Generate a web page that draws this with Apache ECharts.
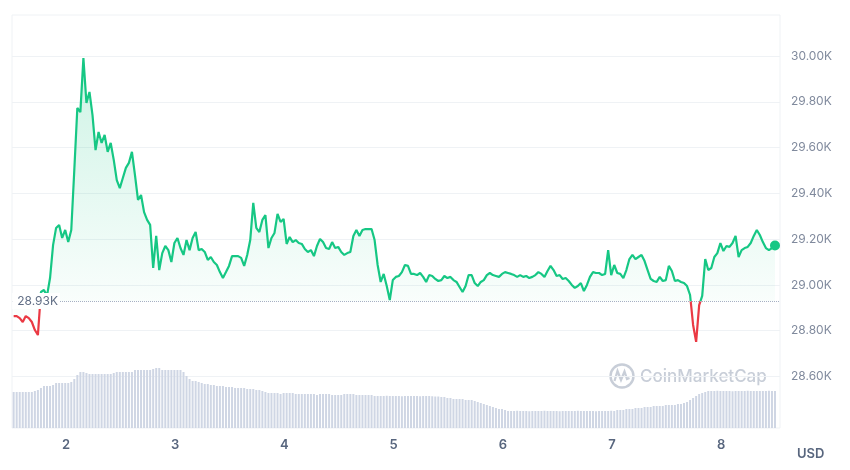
<!DOCTYPE html>
<html><head><meta charset="utf-8">
<script src="https://cdn.jsdelivr.net/npm/echarts@6/dist/echarts.min.js"></script>
<style>html,body{margin:0;padding:0;background:#fff}#c{width:850px;height:470px}</style>
</head><body><div id="c"></div>
<script>
// ---- data ----
const startDay = 1.52;          // first sample (day of month)
const stepDay = 1 / 36;         // 40-minute samples
const dayTicks = [2, 3, 4, 5, 6, 7, 8];
const priceTicks = [28600, 28800, 29000, 29200, 29400, 29600, 29800, 30000];
const baselinePrice = 28930;
const prices = [
 28864,28864,28855,28838,28864,28855,28838,28803,28781,28969,28978,28952,
 29030,29174,29249,29262,29205,29240,29187,29240,29502,29773,29755,29991,
 29795,29843,29742,29589,29668,29620,29655,29581,29620,29546,29458,29423,
 29467,29511,29533,29581,29480,29371,29393,29318,29284,29262,29074,29214,
 29065,29139,29170,29152,29100,29183,29205,29161,29131,29196,29152,29205,
 29231,29152,29157,29144,29109,29122,29100,29087,29056,29030,29056,29083,
 29126,29126,29126,29118,29083,29131,29196,29358,29249,29231,29284,29305,
 29161,29205,29227,29310,29275,29288,29179,29209,29187,29196,29183,29179,
 29157,29144,29152,29126,29170,29201,29187,29161,29157,29187,29161,29166,
 29144,29131,29139,29144,29214,29240,29214,29240,29244,29244,29244,29196,
 29087,29013,29048,28995,28934,29021,29035,29039,29056,29087,29083,29048,
 29048,29043,29052,29035,29013,29043,29039,29026,29017,29021,29039,29030,
 29035,29021,29013,28991,28969,28995,29043,29043,29008,28995,29013,29021,
 29043,29052,29043,29039,29035,29048,29056,29052,29048,29043,29035,29043,
 29035,29039,29030,29035,29043,29056,29048,29035,29061,29083,29065,29039,
 29043,29026,29030,29017,29000,28987,28995,29008,28973,29000,29035,29056,
 29052,29052,29043,29048,29152,29043,29087,29052,29048,29030,29065,29113,
 29131,29113,29122,29131,29104,29065,29026,29017,29013,29035,29017,29021,
 29083,29061,29017,29021,29013,29008,28995,28956,28825,28751,28912,28952,
 29113,29065,29074,29122,29139,29183,29148,29170,29166,29183,29214,29122,
 29152,29161,29166,29183,29214,29240,29218,29187,29161,29152,29161,29172
];
const volumes = [ // 24h volume, billions USD
 14.4,14.4,14.4,14.4,14.4,14.4,14.4,14.8,15.2,16.0,16.8,16.8,
 16.8,17.2,18.0,18.0,18.0,18.0,18.0,18.4,19.6,21.2,22.4,22.4,
 22.0,21.6,21.6,21.6,21.6,21.6,21.6,21.6,21.6,22.0,22.4,22.4,
 22.4,22.4,22.4,22.4,23.2,23.2,23.2,23.2,23.2,23.2,23.6,24.0,
 24.0,23.2,23.2,23.2,23.2,23.2,23.2,23.2,22.4,20.8,19.6,18.8,
 18.8,18.4,18.0,17.6,17.6,17.2,17.2,16.8,16.8,16.8,16.4,16.4,
 16.4,16.0,16.0,16.0,16.0,15.6,15.6,15.6,15.2,15.2,14.8,14.4,
 14.0,14.0,14.0,14.0,13.6,14.0,14.0,14.0,14.0,13.6,13.6,13.6,
 13.6,13.6,13.6,13.6,13.2,13.6,13.6,13.6,13.6,13.2,13.2,13.2,
 13.2,13.6,13.6,13.6,13.6,13.2,13.2,13.2,13.2,13.2,13.2,12.8,
 12.8,12.8,12.8,12.9,12.8,12.8,12.8,12.8,12.7,12.8,12.8,12.8,
 12.8,12.8,12.7,12.8,12.8,12.8,12.7,12.6,12.6,12.4,12.4,12.0,
 12.0,11.6,11.6,11.6,11.6,11.2,11.2,11.2,10.8,10.4,10.0,9.6,
 9.2,8.8,8.4,8.0,7.6,7.6,7.2,6.8,6.8,6.8,6.9,6.8,
 6.8,6.8,6.7,6.8,6.8,6.8,6.8,6.9,6.8,6.8,6.8,6.8,
 6.7,6.8,6.8,6.8,6.8,6.8,6.9,6.8,6.8,6.8,6.8,6.8,
 6.7,6.8,6.8,6.8,6.8,6.9,6.8,7.2,7.2,7.2,7.6,7.6,
 7.6,8.0,8.0,8.0,8.4,8.4,8.4,8.8,8.8,8.8,8.8,9.2,
 9.2,9.2,9.2,9.6,9.6,10.0,10.4,11.2,12.0,12.8,13.6,14.0,
 14.4,14.8,14.8,14.8,14.9,14.8,14.8,14.8,14.8,14.7,14.8,14.8,
 14.8,14.8,14.9,14.8,14.8,14.8,14.8,14.8,14.8,14.9,14.8,14.8
];

// ---- build ----
const times = prices.map((_, i) => startDay + i * stepDay);
const priceData = prices.map((v, i) => [times[i], v]);
const volData = volumes.map((v, i) => [times[i], v]);
const lastT = times[times.length - 1];
const lastP = prices[prices.length - 1];
const kFmt = v => (v / 1000).toFixed(2) + 'K';

const GREEN = '#16c784', RED = '#ea3943';
const chart = echarts.init(document.getElementById('c'), null, { renderer: 'canvas' });
chart.setOption({
  animation: false,
  backgroundColor: '#ffffff',
  textStyle: { fontFamily: 'Inter, "Noto Sans", sans-serif' },
  grid: { left: 12, right: 70, top: 15, bottom: 42, show: true, borderColor: '#eff2f5', borderWidth: 1 },
  xAxis: {
    type: 'value', min: 1.505, max: 8.538,
    axisLine: { show: false }, axisTick: { show: false, customValues: dayTicks },
    splitLine: { show: false },
    axisLabel: { customValues: dayTicks, color: '#58667e', fontSize: 13, fontWeight: 600, margin: 11 }
  },
  yAxis: [{
    type: 'value', position: 'right', min: 28375, max: 30179,
    axisLine: { show: false },
    axisTick: { show: false, customValues: priceTicks },
    splitLine: { show: true, lineStyle: { color: '#eff2f5', width: 1 } },
    axisLabel: { customValues: priceTicks, formatter: kFmt, color: '#808a9d', fontSize: 12, margin: 11 }
  }, {
    type: 'value', min: 0, max: 165.2, show: false, splitLine: { show: false }
  }],
  visualMap: {
    show: false, seriesIndex: 0, dimension: 1,
    pieces: [
      { gt: 20000, lte: baselinePrice, color: RED },
      { gt: baselinePrice, lte: 40000, color: GREEN }
    ],
    outOfRange: { color: GREEN }
  },
  series: [{
    type: 'line', data: priceData, yAxisIndex: 0, showSymbol: false, z: 3,
    lineStyle: { width: 2.2 },
    areaStyle: {
      origin: baselinePrice,
      color: new echarts.graphic.LinearGradient(0, 0, 0, 1, [
        { offset: 0, color: 'rgba(22,199,132,0.30)' },
        { offset: 0.85, color: 'rgba(22,199,132,0.04)' },
        { offset: 1, color: 'rgba(22,199,132,0.0)' }
      ])
    },
    markLine: {
      silent: true, symbol: ['none', 'none'], animation: false,
      data: [
        { yAxis: baselinePrice,
          lineStyle: { type: 'dotted', color: '#a6b0c3', width: 1 },
          label: { show: true, position: 'start', distance: -48, formatter: () => kFmt(baselinePrice),
                   color: '#616e85', fontSize: 12, backgroundColor: '#ffffff', padding: [2, 2, 2, 5] } },
        { yAxis: lastP,
          lineStyle: { opacity: 0, width: 0 },
          label: { show: true, position: 'end', distance: 1, formatter: () => kFmt(lastP),
                   color: '#ffffff', fontSize: 13, fontWeight: 500, backgroundColor: GREEN,
                   padding: [3, 6, 3, 6] } }
      ]
    },
    markPoint: {
      silent: true, animation: false,
      data: [{ coord: [lastT, lastP], symbol: 'circle', symbolSize: 10,
               itemStyle: { color: GREEN }, label: { show: false } }]
    }
  }, {
    type: 'bar', data: volData, yAxisIndex: 1, barWidth: 2, z: 1,
    itemStyle: { color: '#cfd6e4' }, silent: true
  }],
  graphic: [
    { type: 'circle', shape: { cx: 622, cy: 376, r: 11.5 }, style: { fill: 'none', stroke: '#c8ced8', lineWidth: 2.4 }, silent: true },
    { type: 'polyline', shape: { points: [[614.5, 381], [617.5, 371], [621, 380], [624.5, 371.5], [627, 379], [629.5, 378]] },
      style: { fill: 'none', stroke: '#c8ced8', lineWidth: 2.2 }, silent: true },
    { type: 'text', x: 640, y: 377, silent: true,
      style: { text: 'CoinMarketCap', fill: '#c8ced8', fontSize: 17, fontWeight: 500, fontFamily: 'Inter, sans-serif', verticalAlign: 'middle' } },
    { type: 'text', x: 797, y: 454, silent: true,
      style: { text: 'USD', fill: '#58667e', fontSize: 13, fontWeight: 600, fontFamily: 'Inter, sans-serif', verticalAlign: 'middle' } }
  ]
});
</script>
</body></html>
